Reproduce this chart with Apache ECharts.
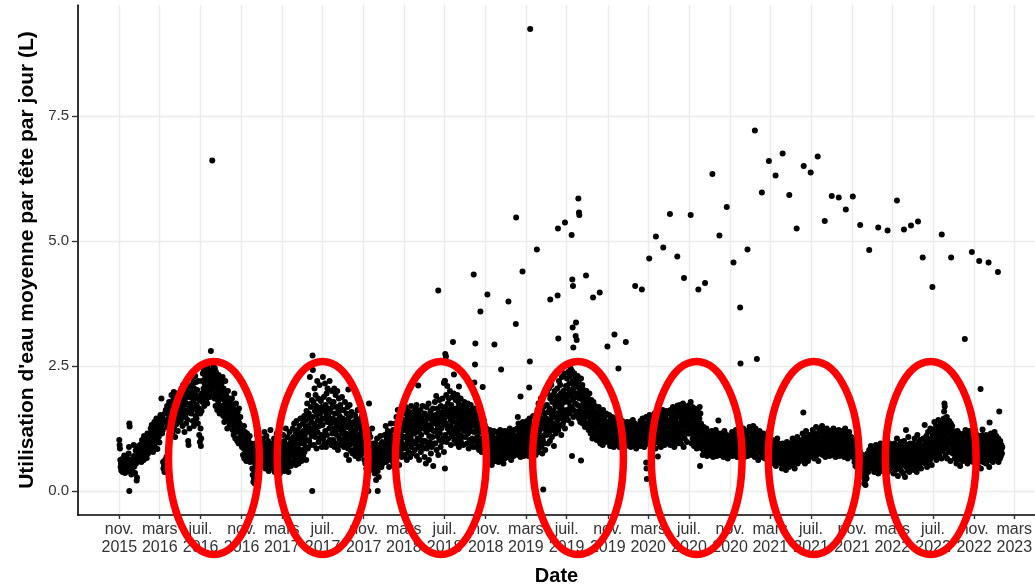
<!DOCTYPE html>
<html><head><meta charset="utf-8">
<script src="https://cdn.jsdelivr.net/npm/echarts@6/dist/echarts.min.js"></script>
<style>html,body{margin:0;padding:0;background:#fff}#c{width:1035px;height:585px}</style>
</head><body><div id="c"></div>
<script>
// ---- Data: daily mean water use per head (L); each array starts at its start date, one value per day ----
const yearStarts = ['2015-11-01','2016-01-01','2017-01-01','2018-01-01','2019-01-01','2020-01-01','2021-01-01','2022-01-01','2023-01-01'];
const d2015 = [
1.02,0.92,0.85,0.62,0.48,0.55,0.41,0.63,0.52,0.45,0.38,0.58,0.66,0.49,0.43,0.71,0.55,0.36,0.47,0.6,0.52,0.44,0.68,0.39,0.57,0.5,0.62,0.46,0.75,0.88,
1.35,1.29,0.55,0.42,0.61,0.48,0.33,0.57,0.64,0.45,0.38,0.5,0.52,0.92,0.7,0.49,0.58,0.36,0.62,0.81,0.55,0.68,0.21,0.27,0.63,0.86,0.72,0.59,0.9,0.77,0.66];
const d2016 = [
0.72,0.85,0.64,0.93,0.78,0.58,0.88,1.02,0.69,0.81,0.95,0.74,0.62,1.1,0.87,0.79,0.98,0.7,0.84,1.05,0.91,0.66,0.83,1.15,0.96,0.75,1.08,0.89,0.8,1.0,0.94,
1.12,0.86,1.25,0.98,1.05,1.32,0.92,1.18,1.02,0.78,1.22,1.1,0.95,1.38,1.06,0.88,1.28,1.15,0.99,1.45,1.2,1.03,0.84,1.3,1.12,1.41,1.08,1.24,0.97,
1.35,1.18,1.52,1.26,1.42,1.85,1.3,1.15,1.48,1.22,0.58,0.45,1.38,0.52,0.38,1.55,0.62,0.47,1.62,0.55,0.68,1.42,1.7,1.28,1.58,1.35,1.66,1.45,1.78,1.5,1.62,
1.45,1.72,1.28,1.58,1.92,1.36,1.65,1.15,1.5,1.82,1.4,1.98,1.25,1.6,1.75,1.08,1.52,1.88,1.33,1.68,1.95,1.42,1.55,1.2,1.78,1.62,1.38,1.85,1.48,1.7,
1.65,1.92,1.4,1.78,2.05,1.55,1.85,1.3,1.7,2.12,1.48,1.95,1.62,1.18,1.82,2.0,1.5,1.75,1.35,1.9,1.6,2.08,1.42,1.72,1.0,0.92,1.58,1.88,1.25,1.68,1.98,
1.75,2.1,1.55,1.88,2.25,1.62,1.95,1.4,2.15,1.8,1.3,2.05,1.68,1.92,2.3,1.5,1.85,2.18,1.45,1.72,2.02,1.58,1.35,1.9,2.2,1.65,1.12,1.82,0.98,1.55,
1.25,0.9,1.05,1.6,1.95,2.2,1.78,2.35,1.9,2.05,2.42,1.7,2.15,1.85,2.28,1.98,2.5,1.82,2.1,2.38,1.75,2.22,2.45,1.92,2.08,2.55,2.0,2.3,1.88,2.18,2.4,
2.35,2.55,2.12,2.6,2.28,1.95,2.42,2.18,2.5,2.05,2.3,1.85,2.45,2.2,1.7,2.38,2.1,1.92,2.25,1.62,2.15,2.0,1.78,2.32,1.88,2.05,1.55,2.2,1.95,1.7,2.1,
1.85,2.15,1.62,1.95,2.28,1.7,1.5,2.05,1.82,1.38,1.98,1.6,2.2,1.75,1.45,1.9,1.55,1.8,1.25,1.68,2.0,1.42,1.72,1.58,1.85,1.32,1.65,1.48,1.78,1.52,
1.6,1.35,1.85,1.48,1.22,1.7,1.4,1.12,1.55,1.95,1.3,1.62,1.05,1.45,1.75,1.18,1.5,1.38,1.0,1.58,1.28,1.42,0.95,1.65,1.2,1.35,1.08,1.48,0.98,1.25,1.15,
1.05,0.88,1.22,0.95,0.72,1.12,0.85,1.3,0.65,0.98,1.18,0.78,0.92,1.08,0.6,0.88,1.15,0.7,0.95,0.82,1.02,0.68,0.9,0.75,1.1,0.58,0.85,0.72,0.95,0.65,
0.62,0.82,0.45,0.32,0.88,0.18,0.42,0.25,0.78,0.15,0.55,0.95,0.68,0.5,0.85,0.72,1.12,0.6,0.92,0.48,0.8,0.66,1.0,0.58,0.75,0.88,0.52,0.7,0.95,0.62,0.82];
const d2017 = [
0.85,0.62,1.05,0.72,0.5,0.95,0.68,1.18,0.58,0.82,0.45,0.9,0.75,1.1,0.6,0.88,0.52,0.78,1.0,0.65,0.4,0.92,0.7,0.55,0.85,1.22,0.62,0.8,0.48,0.95,0.72,
0.78,0.55,0.92,0.45,0.68,1.05,0.62,0.38,0.85,0.72,0.5,0.95,0.6,1.15,0.42,0.8,0.66,0.88,0.52,0.75,1.0,0.58,0.35,0.82,0.7,0.48,0.9,0.64,
0.72,0.45,0.95,0.62,1.12,0.55,0.82,0.4,1.0,0.68,0.88,0.52,1.25,0.75,0.6,0.92,0.48,0.8,1.08,0.65,0.38,0.85,0.7,1.18,0.58,0.95,0.78,0.5,1.02,0.72,0.88,
0.95,0.7,1.25,0.58,1.08,0.82,1.35,0.65,0.98,0.75,1.18,0.52,0.9,1.4,0.72,1.05,0.62,1.22,0.85,0.55,1.12,0.78,1.3,0.68,0.95,1.45,0.8,1.02,0.6,1.15,
1.05,0.82,1.35,0.7,1.2,0.95,1.5,0.78,1.12,1.4,0.88,1.28,0.62,1.6,1.02,1.75,1.18,0.85,1.92,1.3,1.55,1.0,1.45,2.28,1.22,0.92,1.68,1.38,1.1,1.82,1.25,
1.48,2.42,1.15,1.78,0.92,1.35,2.05,1.6,1.08,1.92,1.25,1.7,0.85,1.52,2.2,1.18,1.42,1.85,0.98,1.62,1.3,2.12,1.05,1.55,1.38,1.8,1.12,1.68,0.88,1.45,
1.32,2.28,1.05,1.62,1.88,0.95,1.45,2.15,1.2,1.72,0.88,1.55,1.95,1.12,1.38,2.05,1.65,0.98,1.48,1.82,1.25,2.2,1.02,1.58,1.35,1.78,0.92,1.42,2.0,1.15,1.68,
1.45,1.02,1.78,1.25,2.05,0.88,1.55,1.18,1.92,1.35,0.95,1.68,1.12,2.0,1.42,0.82,1.58,1.28,1.85,1.05,1.5,0.92,1.72,1.22,1.38,1.62,0.98,1.88,1.15,1.45,1.3,
1.2,1.62,0.88,1.42,1.05,1.78,0.95,1.35,1.15,0.72,1.55,1.0,1.28,1.68,0.85,1.45,1.1,0.62,1.38,1.72,0.92,1.25,1.5,0.8,1.18,1.58,1.02,1.32,0.75,1.12,
1.15,0.82,1.38,0.95,1.05,1.52,0.7,1.22,0.88,1.45,1.0,0.78,1.3,1.62,0.92,1.12,0.65,1.35,1.08,0.85,1.42,0.98,1.25,0.72,1.18,0.9,1.5,1.02,0.8,1.28,0.95,
0.85,1.12,0.62,0.95,1.28,0.55,0.78,1.05,0.45,0.9,1.2,0.68,0.82,0.38,1.0,0.72,1.15,0.58,0.88,0.48,1.08,0.65,0.92,0.52,0.75,1.25,0.6,0.82,0.42,0.95,
0.7,0.52,0.88,0.35,0.62,0.95,0.45,0.22,0.78,0.58,1.05,0.68,0.4,0.85,0.55,0.28,0.72,0.92,0.5,0.65,1.1,0.6,0.82,0.48,0.75,0.98,0.55,0.7,0.88,0.62,0.8];
const d2018 = [
0.88,0.65,1.12,0.75,0.95,1.3,0.58,0.85,1.05,0.7,0.92,1.2,0.62,0.8,1.0,0.48,0.9,1.15,0.72,0.98,1.35,0.68,0.85,1.08,0.6,0.95,0.78,1.22,0.88,0.55,1.02,
1.05,0.82,1.35,0.6,1.18,0.95,1.48,0.75,1.1,0.88,1.62,0.7,1.25,1.0,0.52,1.4,0.9,1.15,0.78,1.3,0.98,1.55,0.68,1.2,0.85,1.08,1.42,0.92,
1.22,0.92,1.55,0.72,1.35,1.08,1.68,0.85,1.28,0.62,1.45,1.0,1.18,1.6,0.78,1.38,0.95,1.52,1.12,0.68,1.3,1.05,1.7,0.88,1.25,1.42,0.75,1.15,1.58,0.98,1.32,
1.15,1.48,0.82,1.3,1.65,0.95,1.22,1.72,0.7,1.4,1.05,1.55,0.88,1.35,1.18,0.62,1.5,1.02,1.28,1.62,0.78,1.12,1.45,0.92,1.38,1.7,1.0,1.25,0.85,1.52,
1.28,0.68,1.55,1.0,1.4,0.55,1.18,1.68,0.85,1.32,1.5,0.92,1.22,1.75,0.62,1.1,1.45,0.98,1.3,1.6,0.75,1.25,1.52,0.88,1.38,1.08,1.65,0.5,1.2,1.42,0.95,
1.35,1.78,0.95,1.52,1.2,1.9,0.82,1.45,1.1,1.65,1.28,0.72,1.58,1.38,1.02,1.82,1.15,1.48,0.88,1.7,1.25,1.55,0.98,1.42,1.85,1.05,1.32,1.62,0.78,1.5,
1.45,2.2,1.12,1.68,1.35,1.92,0.98,1.58,2.1,1.25,1.75,1.05,1.5,1.85,1.18,1.62,2.0,1.3,1.42,0.92,1.72,1.55,1.1,1.88,1.38,1.65,1.22,1.95,1.48,1.02,1.58,
1.5,1.15,1.82,1.28,0.95,1.65,1.38,1.92,1.05,1.55,1.22,1.75,0.88,1.45,1.62,1.12,1.35,1.85,0.98,1.52,1.28,1.7,1.08,1.42,1.6,0.92,1.48,1.2,1.78,1.32,1.58,
1.42,1.08,1.68,1.25,1.52,0.95,1.35,1.75,1.15,1.48,0.85,1.6,1.28,1.02,1.55,1.38,1.72,0.92,1.45,1.2,1.62,1.05,1.32,1.5,0.88,1.4,1.18,1.65,1.0,1.3,
1.35,1.0,1.55,1.2,0.88,1.45,1.1,1.65,0.95,1.3,1.5,0.82,1.25,1.4,1.05,1.6,0.92,1.18,1.38,0.78,1.28,1.48,1.02,1.22,0.9,1.42,1.12,0.85,1.32,1.0,1.15,
1.12,0.85,1.25,0.68,0.98,1.05,0.75,1.18,0.9,0.58,1.08,0.82,1.22,0.65,0.95,0.72,1.15,0.88,0.52,1.0,0.78,1.1,0.62,0.92,1.2,0.7,0.85,1.02,0.6,0.95,
0.82,1.05,0.65,0.92,1.18,0.72,0.88,1.0,0.58,0.95,1.12,0.68,0.85,1.22,0.75,0.98,0.62,1.08,0.8,0.9,1.15,0.7,0.95,0.55,1.02,0.85,1.2,0.65,0.92,0.78,1.05];
const d2019 = [
0.95,1.15,0.75,1.02,0.85,1.2,0.68,0.98,1.08,0.8,0.92,1.25,0.72,1.05,0.88,0.62,1.12,0.95,0.78,1.18,0.85,1.0,0.7,1.1,0.9,1.22,0.82,0.98,0.75,1.05,0.92,
1.02,0.82,1.25,0.95,1.12,0.72,1.35,0.9,1.05,0.78,1.18,0.98,0.68,1.28,0.88,1.08,0.75,1.2,0.92,1.38,0.85,1.0,0.7,1.15,0.95,1.3,0.8,1.1,
0.98,1.22,0.75,1.1,1.4,0.88,1.05,1.3,0.7,1.15,0.92,1.45,0.82,1.18,1.02,0.68,1.25,0.95,1.35,0.8,1.12,0.9,1.5,0.78,1.08,1.28,0.85,1.0,1.38,0.72,1.2,
1.15,0.85,1.42,1.05,1.62,0.92,1.28,1.75,0.78,1.2,1.5,0.98,1.35,1.1,1.85,0.88,1.45,1.25,0.75,1.58,1.02,1.38,1.68,0.95,1.3,1.12,1.55,0.82,1.4,1.22,
1.45,1.12,1.72,1.3,1.95,0.95,1.58,1.38,2.05,1.18,1.65,1.0,1.85,1.42,1.25,2.12,1.52,1.08,1.78,1.35,1.92,1.22,1.6,0.9,1.48,2.0,1.3,1.7,1.15,1.82,1.55,
1.75,1.38,2.05,1.55,1.9,1.22,1.68,2.2,1.45,1.82,1.3,2.12,1.6,1.95,1.12,1.72,2.28,1.5,1.85,1.35,2.0,1.62,1.42,2.35,1.78,1.25,1.92,1.58,2.1,1.48,
1.85,2.25,1.62,2.05,1.42,2.38,1.78,1.95,2.15,1.55,2.3,1.7,2.45,1.9,1.35,2.02,2.4,1.65,2.2,1.82,1.48,2.12,1.98,2.35,1.6,2.08,1.75,2.28,1.88,1.52,2.18,
2.1,1.72,2.3,1.55,1.95,2.2,1.45,1.85,2.05,1.62,1.38,1.98,2.25,1.7,1.5,1.9,2.12,1.35,1.8,1.58,2.02,1.42,1.75,1.95,1.28,1.68,1.88,1.52,2.0,1.32,1.78,
1.6,1.35,1.85,1.48,1.22,1.72,1.95,1.28,1.55,1.4,1.15,1.68,1.82,1.32,1.5,1.05,1.62,1.42,1.78,1.25,1.55,1.1,1.45,1.7,1.3,1.2,1.58,1.38,1.02,1.48,
1.32,1.55,1.12,1.42,1.68,1.0,1.38,1.22,1.58,0.95,1.45,1.28,1.08,1.52,1.18,1.35,0.92,1.62,1.25,1.05,1.4,1.15,1.48,0.98,1.3,1.2,1.55,1.1,1.38,1.02,1.25,
1.15,1.38,0.98,1.25,1.52,1.05,1.3,0.9,1.42,1.18,1.0,1.35,1.12,1.48,0.95,1.22,1.08,1.4,0.88,1.28,1.15,1.45,1.02,1.32,1.1,0.92,1.25,1.38,1.05,1.18,
1.12,0.95,1.3,1.05,1.22,0.88,1.15,1.35,1.0,1.25,0.92,1.18,1.08,1.4,0.98,1.2,1.02,0.85,1.28,1.12,0.95,1.32,1.05,1.15,0.9,1.22,1.0,1.38,1.1,0.92,1.18];
const d2020 = [
1.05,1.25,0.92,1.15,1.32,0.98,1.1,1.38,0.88,1.2,1.02,1.28,0.95,1.12,1.42,1.0,1.22,0.9,1.18,1.05,1.35,0.95,1.15,1.25,0.85,1.08,1.3,1.0,1.2,0.92,1.12,
1.15,0.95,1.32,1.05,1.22,0.9,1.4,1.1,0.98,1.28,1.02,1.18,1.45,0.92,1.25,1.08,1.35,0.88,1.15,1.2,0.98,1.3,1.05,1.48,0.95,1.12,1.25,1.0,1.38,
1.18,0.98,1.35,1.1,1.52,0.92,1.25,1.4,1.05,1.2,0.88,1.3,1.15,1.45,1.0,1.28,0.95,1.38,1.12,1.55,1.02,1.22,0.85,1.32,1.08,1.42,1.18,0.98,1.35,1.12,1.25,
1.22,1.45,0.95,1.3,1.58,1.05,1.38,0.88,1.2,1.5,1.12,1.32,1.62,0.98,1.25,1.42,1.08,1.55,0.92,1.35,1.18,1.48,1.02,1.28,1.6,0.95,1.4,1.15,1.32,1.05,
1.3,1.05,1.55,1.18,1.42,0.92,1.62,1.25,1.38,1.08,1.5,0.98,1.35,1.68,1.15,1.28,1.45,0.88,1.22,1.58,1.1,1.4,1.02,1.32,1.65,0.95,1.48,1.2,1.35,1.12,1.52,
1.25,1.58,1.02,1.72,1.35,1.48,0.95,1.65,1.2,1.42,1.55,1.1,1.75,1.3,0.88,1.62,1.38,1.05,1.5,1.7,1.18,1.45,1.28,1.6,0.98,1.52,1.68,1.15,1.4,1.25,
1.62,1.35,1.72,1.15,1.5,1.78,1.25,1.58,0.95,1.42,1.68,1.05,1.3,1.55,1.2,0.9,1.45,1.65,1.12,1.38,1.0,1.52,1.28,0.85,1.42,1.18,1.6,1.08,1.35,0.92,1.25,
1.45,1.68,1.2,1.55,0.98,1.35,1.1,0.85,1.22,1.05,0.72,1.15,0.92,1.28,0.8,1.05,0.95,1.2,0.75,1.1,0.88,1.25,0.98,0.7,1.12,0.9,1.02,0.78,1.18,0.95,0.85,
0.98,0.82,1.12,0.72,1.05,0.88,1.2,0.78,0.95,1.08,0.68,1.0,0.85,1.15,0.92,0.75,1.05,0.9,1.22,0.8,0.98,0.7,1.1,0.88,1.02,0.82,1.15,0.95,0.72,1.05,
0.92,0.78,1.08,0.85,0.98,1.15,0.72,0.9,1.02,0.8,1.1,0.68,0.95,0.88,1.2,0.75,1.0,0.85,1.05,0.7,0.92,1.12,0.8,0.98,0.65,1.05,0.88,0.78,1.0,0.9,1.08,
0.95,0.82,1.1,0.75,1.02,0.88,1.18,0.7,0.92,1.05,0.8,1.12,0.85,0.98,0.72,1.08,0.9,1.22,0.78,0.95,1.0,0.68,1.15,0.85,0.92,1.05,0.8,0.98,1.1,0.88,
0.9,1.05,0.78,1.15,0.85,0.98,0.72,1.1,0.88,1.25,0.8,0.95,1.02,0.68,1.12,0.85,0.92,1.2,0.75,1.0,0.88,1.08,0.7,0.95,1.18,0.82,1.0,0.9,1.28,0.78,0.95];
const d2021 = [
0.92,1.22,0.8,1.05,0.72,1.15,0.88,0.98,1.3,0.75,1.0,0.85,1.12,0.68,0.95,1.25,0.82,1.05,0.9,0.7,1.18,0.88,0.98,0.62,1.08,0.85,0.95,1.2,0.78,1.02,0.88,
0.95,0.78,1.1,0.85,0.68,1.02,0.9,1.15,0.75,0.98,0.82,1.08,0.65,0.92,1.0,0.72,1.12,0.85,0.95,0.7,1.05,0.88,0.78,1.18,0.92,0.75,0.98,0.85,
0.82,0.68,0.95,0.58,0.88,0.75,1.02,0.62,0.9,0.72,0.55,0.85,0.98,0.65,0.8,0.7,0.92,0.5,0.78,0.88,0.62,1.05,0.72,0.85,0.58,0.95,0.68,0.8,0.75,0.9,0.6,
0.72,0.55,0.88,0.62,0.45,0.8,0.95,0.58,0.7,0.85,0.5,0.78,0.65,0.92,0.6,0.75,0.42,0.82,0.68,0.98,0.55,0.72,0.88,0.62,0.78,0.48,0.85,0.7,0.95,0.65,
0.78,0.62,0.95,0.7,0.52,0.88,1.05,0.65,0.8,0.58,0.92,0.72,0.45,0.85,1.0,0.68,0.78,0.95,0.6,0.82,1.08,0.55,0.75,0.9,0.65,0.98,0.7,0.85,0.6,0.92,0.78,
0.85,0.68,1.02,0.75,0.92,1.15,0.62,0.88,0.98,0.72,1.08,0.8,0.55,0.95,0.7,1.2,0.85,0.65,0.9,1.05,0.78,0.6,0.98,0.82,1.12,0.72,0.9,0.68,1.0,0.85,
0.92,1.12,0.78,1.0,0.85,1.22,0.7,0.95,1.08,0.82,0.65,1.15,0.9,1.02,0.75,1.28,0.88,0.98,0.72,1.1,0.85,1.05,0.6,0.95,1.18,0.8,0.92,1.25,0.78,1.0,0.88,
1.05,0.82,1.3,0.95,0.72,1.12,0.88,1.0,1.22,0.78,0.98,1.15,0.68,0.92,1.08,0.85,1.25,0.75,1.02,0.9,1.18,0.8,0.95,1.1,0.7,1.0,0.88,1.2,0.82,1.05,0.92,
0.98,1.18,0.8,1.05,0.9,1.25,0.72,0.95,1.12,0.85,1.02,0.68,1.2,0.92,0.78,1.08,0.88,1.15,0.75,1.0,0.82,1.22,0.95,0.7,1.05,0.9,1.12,0.8,0.98,1.1,
0.88,1.08,0.75,1.2,0.95,0.82,1.12,0.68,1.0,0.9,1.25,0.78,0.98,1.05,0.72,1.15,0.85,0.92,0.65,1.1,0.95,0.8,1.18,0.88,0.7,1.02,0.92,0.78,1.08,0.85,0.75,
0.95,0.78,1.05,0.68,0.88,0.72,0.92,0.58,0.82,0.65,0.5,0.85,0.7,0.95,0.6,0.78,0.45,0.72,0.88,0.55,0.68,0.4,0.8,0.62,0.52,0.75,0.35,0.65,0.58,0.48,
0.62,0.5,0.72,0.45,0.38,0.28,0.15,0.35,0.2,0.42,0.12,0.3,0.55,0.25,0.65,0.48,0.75,0.6,0.38,0.68,0.52,0.82,0.62,0.45,0.7,0.55,0.9,0.65,0.48,0.78,0.58];
const d2022 = [
0.62,0.45,0.78,0.55,0.7,0.38,0.85,0.6,0.48,0.72,0.92,0.52,0.65,0.42,0.8,0.58,0.7,0.35,0.88,0.62,0.5,0.75,0.45,0.68,0.95,0.55,0.62,0.82,0.4,0.72,0.6,
0.68,0.5,0.85,0.6,0.75,0.42,0.92,0.65,0.55,0.8,0.48,0.72,1.02,0.58,0.7,0.38,0.88,0.62,0.52,0.78,0.95,0.45,0.68,0.82,0.55,0.72,0.6,0.88,
0.72,0.48,0.88,0.58,0.35,0.8,0.65,0.95,0.52,0.7,0.42,0.85,0.6,0.75,1.05,0.5,0.68,0.3,0.82,0.62,0.92,0.55,0.72,0.45,0.78,0.65,0.98,0.4,0.7,0.58,0.85,
0.62,0.88,0.35,0.75,1.0,0.52,0.7,0.28,0.85,0.6,1.22,0.48,0.78,0.65,0.92,0.42,0.72,1.08,0.55,0.82,0.38,0.68,0.95,0.58,0.75,0.5,0.88,0.62,0.8,0.45,
0.78,0.55,0.95,0.68,0.42,0.85,1.05,0.62,0.75,0.5,0.92,0.7,0.38,0.82,1.12,0.58,0.72,0.88,0.48,0.98,0.65,0.8,0.55,1.02,0.7,0.45,0.9,0.62,0.78,0.85,0.6,
0.82,1.05,0.6,0.92,0.72,1.32,0.55,0.85,0.98,0.68,1.1,0.78,0.48,0.95,0.65,1.18,0.88,0.58,1.02,0.75,0.9,0.62,1.25,0.82,0.7,1.05,0.52,0.92,0.8,1.12,
0.95,1.22,0.78,1.08,1.38,0.68,1.0,1.15,0.85,1.3,0.62,1.05,0.92,1.25,0.75,1.12,1.42,0.88,0.98,0.7,1.2,1.02,0.82,1.35,0.92,0.65,1.1,1.28,0.8,1.0,1.18,
1.15,1.45,0.85,1.28,0.98,1.38,0.72,1.1,1.22,0.9,1.48,0.65,1.05,1.32,0.82,1.18,0.95,1.4,0.78,1.25,1.02,0.6,1.35,0.92,1.12,0.8,1.3,1.0,0.75,1.2,0.88,
1.05,0.82,1.18,0.65,0.95,0.72,1.1,0.88,0.55,1.0,0.78,1.2,0.92,0.62,1.08,0.85,0.7,1.15,0.95,0.5,1.02,0.8,0.68,1.12,0.88,0.75,1.05,0.6,0.92,0.82,
0.92,1.15,0.7,1.02,0.82,1.22,0.62,0.95,1.08,0.75,0.88,0.55,1.12,0.98,0.68,1.05,0.8,1.2,0.72,0.9,0.6,1.0,0.85,1.18,0.65,0.95,0.78,1.1,0.58,0.88,1.02,
0.85,1.05,0.62,0.95,0.75,1.15,0.55,0.88,0.7,1.02,0.8,0.5,0.98,0.68,1.1,0.78,0.92,0.6,1.08,0.85,0.45,0.72,1.0,0.82,0.65,1.12,0.9,0.58,0.78,0.95,
0.88,0.65,1.05,0.78,0.95,0.55,1.12,0.82,0.7,0.98,0.6,0.9,1.08,0.72,0.85,0.48,1.0,0.78,0.92,0.62,1.15,0.8,0.68,0.95,0.75,1.02,0.58,0.88,0.72,1.1,0.82];
const d2023 = [
0.85,1.02,0.68,0.92,0.75,1.1,0.62,0.88,0.98,0.72,0.8,1.05,0.58,0.9,0.78,0.95,0.65,1.0,0.82,0.7,0.92,0.85,0.75,0.88];
const yearValues = [d2015,d2016,d2017,d2018,d2019,d2020,d2021,d2022,d2023];

// Unusual days (spikes / drops)
const spikes = [
['2015-12-01',0.0],['2016-08-01',2.80],['2016-08-05',6.61],['2017-05-31',0.0],['2017-06-01',2.71],['2017-09-16',2.03],
['2017-11-15',0.0],['2017-11-17',1.75],['2017-12-13',0.0],['2018-04-13',2.11],['2018-06-12',4.01],['2018-06-29',2.16],
['2018-07-01',2.2],['2018-07-02',0.45],['2018-07-03',2.74],['2018-07-05',2.69],['2018-07-26',2.98],['2018-07-29',2.33],
['2018-08-13',2.09],['2018-09-26',4.33],['2018-09-28',2.17],['2018-09-30',2.53],['2018-10-01',2.95],['2018-10-16',3.59],
['2018-10-23',2.08],['2018-11-06',3.93],['2018-11-27',2.93],['2018-12-17',2.43],['2019-01-08',3.79],['2019-01-30',3.34],
['2019-01-31',5.47],['2019-02-05',1.48],['2019-02-13',1.89],['2019-02-19',4.39],['2019-03-11',2.07],['2019-03-13',2.59],
['2019-03-14',9.24],['2019-04-03',4.83],['2019-04-22',0.03],['2019-05-13',3.83],['2019-06-04',3.91],['2019-06-05',5.25],
['2019-06-06',3.05],['2019-06-26',5.37],['2019-07-16',5.12],['2019-07-17',0.7],['2019-07-18',4.23],['2019-07-19',3.27],
['2019-07-20',4.1],['2019-07-21',2.87],['2019-07-28',3.1],['2019-07-29',3.37],['2019-07-31',3.02],['2019-08-05',5.85],
['2019-08-07',5.57],['2019-08-08',5.52],['2019-08-13',0.61],['2019-08-28',4.31],['2019-09-18',3.87],['2019-10-08',3.97],
['2019-10-31',2.89],['2019-11-21',3.13],['2019-12-03',2.45],['2019-12-25',2.98],['2020-01-22',4.1],['2020-02-11',4.03],
['2020-02-24',0.57],['2020-02-25',0.45],['2020-02-26',0.24],['2020-03-04',4.65],['2020-03-24',5.09],['2020-03-30',0.69],
['2020-04-15',4.87],['2020-05-05',5.54],['2020-05-27',4.69],['2020-05-28',1.71],['2020-06-16',4.26],['2020-07-06',5.52],
['2020-07-29',4.03],['2020-08-03',0.5],['2020-08-18',4.16],['2020-09-09',6.34],['2020-09-27',1.41],['2020-09-30',5.11],
['2020-10-22',5.68],['2020-11-11',4.57],['2020-12-01',3.67],['2020-12-02',2.55],['2020-12-23',4.83],['2021-01-14',7.21],
['2021-01-20',2.64],['2021-02-04',5.97],['2021-02-25',6.6],['2021-03-17',6.31],['2021-04-07',6.75],['2021-04-27',5.92],
['2021-05-19',5.25],['2021-06-08',1.57],['2021-06-09',6.5],['2021-06-30',6.37],['2021-07-21',6.69],['2021-08-11',5.4],
['2021-09-01',5.9],['2021-09-22',5.87],['2021-10-13',5.63],['2021-11-03',5.89],['2021-11-25',5.32],['2021-12-22',4.82],
['2022-01-18',5.27],['2022-02-15',5.21],['2022-03-15',5.81],['2022-04-05',5.23],['2022-04-26',5.31],['2022-05-17',5.39],
['2022-05-31',4.67],['2022-06-29',4.08],['2022-07-27',5.13],['2022-08-03',1.59],['2022-08-04',1.75],['2022-08-05',1.69],
['2022-08-24',4.67],['2022-10-04',3.04],['2022-10-25',4.78],['2022-11-16',4.6],['2022-11-20',2.04],['2022-11-26',1.23],
['2022-12-14',4.57],['2022-12-17',1.37],['2023-01-01',1.18],['2023-01-11',4.38],['2023-01-15',1.59]];

// Axis ticks
const tickDates = ['2015-11-01','2016-03-01','2016-07-01','2016-11-01','2017-03-01','2017-07-01','2017-11-01','2018-03-01',
'2018-07-01','2018-11-01','2019-03-01','2019-07-01','2019-11-01','2020-03-01','2020-07-01','2020-11-01','2021-03-01',
'2021-07-01','2021-11-01','2022-03-01','2022-07-01','2022-11-01','2023-03-01'];
const tickLabels = ['nov.\n2015','mars\n2016','juil.\n2016','nov.\n2016','mars\n2017','juil.\n2017','nov.\n2017','mars\n2018',
'juil.\n2018','nov.\n2018','mars\n2019','juil.\n2019','nov.\n2019','mars\n2020','juil.\n2020','nov.\n2020','mars\n2021',
'juil.\n2021','nov.\n2021','mars\n2022','juil.\n2022','nov.\n2022','mars\n2023'];
const yTicks = [0, 2.5, 5, 7.5];

// Red ellipse annotations (centre dates)
const ellipseCenters = ['2016-08-10','2017-07-01','2018-06-20','2019-08-04','2020-07-24','2021-07-09','2022-06-24'];

// ---- Build ----
const DAY = 86400000;
function utc(s){ const p = s.split('-').map(Number); return Date.UTC(p[0], p[1]-1, p[2]); }
const points = [];
yearStarts.forEach((s, i) => { const t0 = utc(s); yearValues[i].forEach((v, j) => points.push([t0 + j*DAY, v])); });
spikes.forEach(([s, v]) => points.push([utc(s), v]));

const tickMs = tickDates.map(utc);
const xMin = utc('2015-11-01') - 123.5*DAY;
const xMax = utc('2023-03-01') + 61.9*DAY;
const FONT = '"Liberation Sans", Arial, Helvetica, sans-serif';

const chart = echarts.init(document.getElementById('c'), null, {renderer:'canvas'});
chart.setOption({
  animation: false,
  backgroundColor: '#ffffff',
  textStyle: {fontFamily: FONT},
  grid: {left: 78, right: 0, top: 5, bottom: 70, containLabel: false, outerBoundsMode: 'none'},
  xAxis: {
    type: 'value', min: xMin, max: xMax, scale: true,
    name: 'Date', nameLocation: 'middle', nameGap: 51,
    nameTextStyle: {fontSize: 20, fontWeight: 'bold', color: '#000', fontFamily: FONT},
    axisLine: {show: true, onZero: false, lineStyle: {color: '#000', width: 1.6}},
    axisTick: {show: true, customValues: tickMs, length: 4, lineStyle: {color: '#333', width: 1.4}},
    axisLabel: {customValues: tickMs, fontSize: 16, lineHeight: 17.6, color: '#333', margin: 6, fontFamily: FONT,
      formatter: v => { const k = tickMs.indexOf(+v); return k >= 0 ? tickLabels[k] : ''; }},
    splitLine: {show: true, lineStyle: {color: '#EBEBEB', width: 1.4}}
  },
  yAxis: {
    type: 'value', min: -0.48, max: 9.72,
    name: "Utilisation d'eau moyenne par tête par jour (L)", nameLocation: 'middle', nameGap: 40,
    nameTextStyle: {fontSize: 21, fontWeight: 'bold', color: '#000', fontFamily: FONT},
    axisLine: {show: true, onZero: false, lineStyle: {color: '#000', width: 1.6}},
    axisTick: {show: true, customValues: yTicks, length: 6, lineStyle: {color: '#333', width: 1.4}},
    axisLabel: {customValues: yTicks, fontSize: 15, color: '#333', margin: 9, fontFamily: FONT,
      formatter: v => Number(v).toFixed(1)},
    splitLine: {show: true, lineStyle: {color: '#EBEBEB', width: 1.4}}
  },
  series: [{
    type: 'scatter', data: points, symbol: 'circle', symbolSize: 6,
    itemStyle: {color: '#000', opacity: 1}, progressive: 0, silent: true, large: false
  }]
});

// ellipse annotations placed through the axes
const ellMid = 0.66, ellHalfDays = 135.8, ellHalfVal = 1.93;
const ell = ellipseCenters.map(s => {
  const t = utc(s);
  const c = chart.convertToPixel({gridIndex: 0}, [t, ellMid]);
  const e = chart.convertToPixel({gridIndex: 0}, [t + ellHalfDays*DAY, ellMid + ellHalfVal]);
  return {type: 'ellipse', z: 100, silent: true,
    shape: {cx: c[0], cy: c[1], rx: Math.abs(e[0]-c[0]), ry: Math.abs(c[1]-e[1])},
    style: {fill: 'none', stroke: '#FF0000', lineWidth: 7.5}};
});
chart.setOption({graphic: ell});
</script>
</body></html>
